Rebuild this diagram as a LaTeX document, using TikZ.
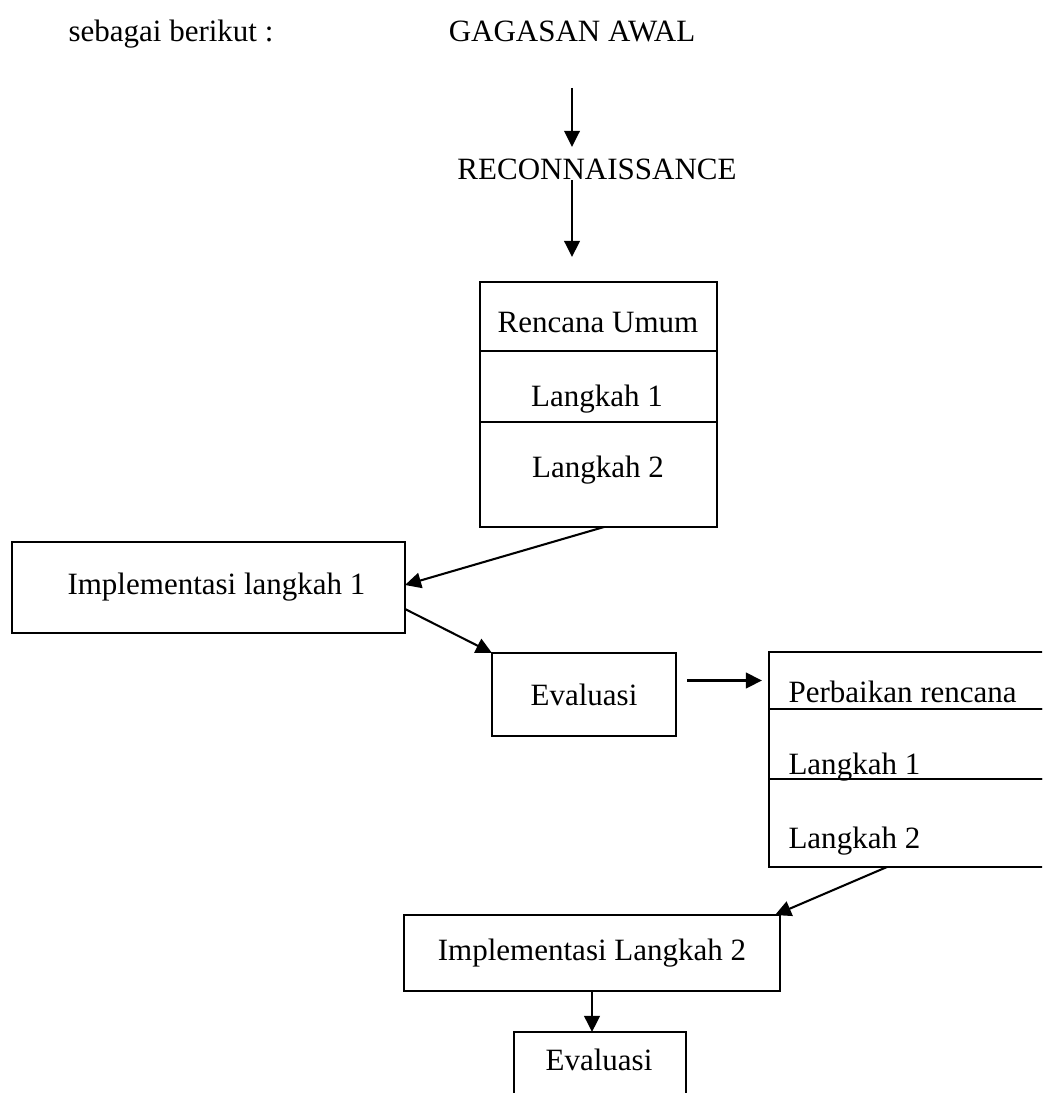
\documentclass[tikz,border=0pt]{standalone}
\usepackage{fontspec}
\setmainfont{Liberation Serif}
\usetikzlibrary{arrows.meta,positioning,calc}
\newlength{\pxu}
\setlength{\pxu}{0.387pt}

\begin{document}
\begin{tikzpicture}[
  x=0.387pt,y=-0.387pt,
  box/.style={draw,line width=0.8pt,inner sep=0pt,outer sep=0pt,
              font=\fontsize{12}{14}\selectfont},
  txt/.style={inner sep=0pt,font=\fontsize{12}{14}\selectfont},
  arr/.style={-{Triangle[length=6.2pt,width=6pt]},line width=0.8pt}
]
\useasboundingbox (0,0) rectangle (1042,1093);
\clip (0,0) rectangle (1042,1093);
\node[txt,anchor=base west] (intro) at (68,42) {sebagai berikut :};
\node[txt,anchor=base] (gag) at (572,42) {GAGASAN AWAL};
\node[txt,anchor=base] (rec) at (597,180) {RECONNAISSANCE};
\node[box,minimum width=237\pxu,minimum height=69\pxu] (ren1) at (598.5,316.5) {};
\node[box,minimum width=237\pxu,minimum height=71\pxu,below=0pt of ren1] (ren2) {};
\node[box,minimum width=237\pxu,minimum height=105\pxu,below=0pt of ren2] (ren3) {};
\node[txt,anchor=base] (ren1t) at (598,333) {Rencana Umum};
\node[txt,anchor=base] (ren2t) at (597,407) {Langkah 1};
\node[txt,anchor=base] (ren3t) at (598,478) {Langkah 2};
\node[box,minimum width=393\pxu,minimum height=91\pxu] (impa) at (208.5,587.5) {\hspace*{16\pxu}Implementasi langkah 1};
\node[box,minimum width=184\pxu,minimum height=83\pxu] (eva) at (584,694.5) {Evaluasi};
\node[box,minimum width=311\pxu,minimum height=57\pxu] (per1) at (924.5,680.5) {};
\node[box,minimum width=311\pxu,minimum height=70\pxu,below=0pt of per1] (per2) {};
\node[box,minimum width=311\pxu,minimum height=88\pxu,below=0pt of per2] (per3) {};
\node[txt,anchor=base west] (per1t) at (788,702) {Perbaikan rencana};
\node[txt,anchor=base west] (per2t) at (788,774) {Langkah 1};
\node[txt,anchor=base west] (per3t) at (788,848) {Langkah 2};
\node[box,minimum width=376\pxu,minimum height=76\pxu] (impb) at (592,953) {Implementasi Langkah 2};
\node[box,minimum width=172\pxu,minimum height=80\pxu] (evb) at (600,1072) {};
\node[txt,anchor=base] (evbt) at (599,1070) {Evaluasi};
\draw[arr,shorten <=45\pxu,shorten >=12\pxu] (gag.south) -- (gag.south |- rec.north);
\draw[arr,shorten >=25\pxu] (gag.south |- rec.base) -- (gag.south |- ren1.north);
\draw[arr] ($(ren3.south)+(5.5,0)$) -- ($(impa.east)+(0,-2.5)$);
\draw[arr] ($(impa.east)+(0,21.5)$) -- (eva.north west);
\draw[arr,shorten <=11\pxu,shorten >=7\pxu] (eva.east |- per1.west) -- (per1.west);
\draw[arr] ($(per3.south)+(-37.5,0)$) -- ($(impb.north east)+(-5,0)$);
\draw[arr] (impb.south) -- (impb.south |- evb.north);
\end{tikzpicture}
\end{document}
